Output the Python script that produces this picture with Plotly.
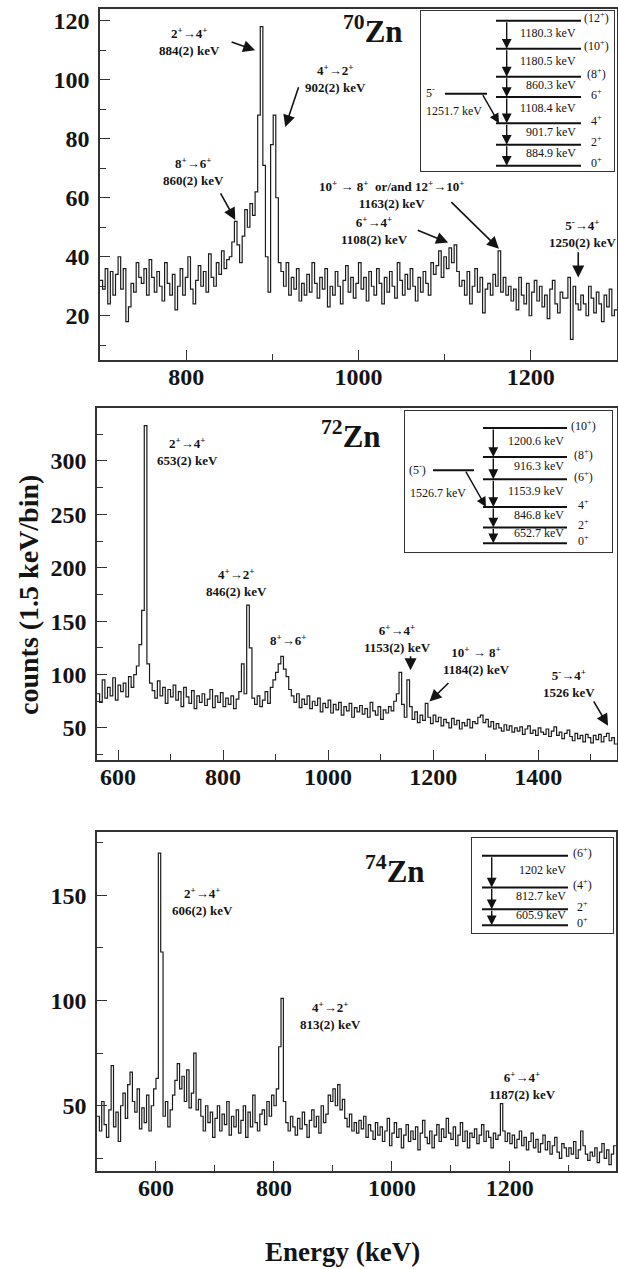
import plotly.graph_objects as go

W, H = 618, 1269
FONT = "Liberation Serif"
INK = "#141414"

# ------------------------------------------------------------------ data
# 70Zn gated spectrum, 3 keV bins from 700 keV
ZN70_E0, ZN70_BIN = 700, 3
ZN70_COUNTS = [
    32, 29, 36, 24, 35, 27, 34, 40, 29, 36,
    18, 23, 31, 28, 38, 33, 31, 36, 27, 39,
    33, 28, 35, 30, 25, 38, 31, 27, 34, 22,
    30, 36, 27, 33, 40, 29, 24, 32, 37, 30,
    35, 28, 41, 33, 30, 38, 34, 42, 36, 39,
    40, 45, 52, 44, 38, 47, 56, 50, 58, 54,
    62, 88, 118, 71, 40, 28, 78, 88, 60, 38,
    35, 30, 38, 27, 33, 29, 36, 25, 31, 27,
    34, 28, 38, 31, 26, 33, 29, 36, 23, 30,
    27, 35, 30, 24, 32, 37, 28, 33, 26, 31,
    38, 29, 33, 25, 35, 30, 27, 36, 31, 24,
    33, 28, 35, 30, 26, 38, 32, 27, 34, 29,
    36, 30, 25, 33, 28, 35, 31, 27, 38, 34,
    37, 42, 33, 40, 36, 43, 38, 44, 35, 30,
    32, 27, 35, 24, 30, 36, 28, 33, 21, 29,
    31, 27, 34, 30, 42, 28, 33, 27, 30, 25,
    29, 22, 33, 27, 24, 31, 20, 28, 32, 25,
    30, 23, 27, 19, 29, 32, 24, 21, 28, 26,
    26, 33, 12, 30, 24, 22, 27, 24, 20, 30,
    26, 21, 28, 24, 18, 27, 23, 29, 20, 22,
]

# 72Zn gated spectrum, 5 keV bins from 560 keV
ZN72_E0, ZN72_BIN = 560, 5
ZN72_COUNTS = [
    82, 74, 95, 78, 88, 80, 97, 76, 90, 84,
    92, 79, 98, 88, 100, 108, 128, 160, 333, 110,
    92, 85, 78, 94, 80, 88, 73, 86, 79, 90,
    76, 84, 70, 88, 79, 73, 85, 68, 80, 74,
    82, 71, 77, 86, 69, 80, 74, 83, 70, 78,
    72, 80, 68, 77, 84, 110, 82, 165, 125, 78,
    72, 80, 70, 76, 84, 73, 88, 95, 102, 110,
    117, 105, 98, 86, 80, 74, 82, 69, 77, 72,
    80, 68, 75, 71, 78, 65, 73, 69, 76, 64,
    72, 67, 74, 62, 70, 66, 73, 60, 69, 65,
    71, 63, 68, 60, 74, 66, 62, 70, 58, 67,
    64, 70, 66, 75, 82, 102, 72, 60, 95, 70,
    58, 65, 55, 62, 57, 73, 60, 54, 62, 56,
    60, 52, 58, 55, 50, 59, 53, 57, 49, 55,
    52, 58, 50, 56, 54, 60, 62, 55, 58, 51,
    56, 49, 54, 50, 47, 53, 48, 52, 46, 50,
    47, 51, 44, 49, 52, 45, 48, 43, 50, 46,
    44, 49, 42, 47, 51, 43, 46, 40, 45, 48,
    42, 38, 45, 40, 43, 37, 44, 41, 36, 43,
    39, 44, 37, 42, 45, 38, 41, 35,
]

# 74Zn gated spectrum, 4 keV bins from 500 keV
ZN74_E0, ZN74_BIN = 500, 4
ZN74_COUNTS = [
    45, 38, 52, 41, 35, 48, 69, 40, 47, 33,
    50, 56, 44, 60, 66, 52, 47, 58, 39, 49,
    42, 55, 38, 50, 58, 63, 170, 123, 45, 52,
    40, 48, 55, 62, 70, 58, 64, 52, 67, 49,
    56, 75, 48, 53, 45, 38, 50, 42, 47, 35,
    44, 50, 38, 46, 41, 52, 36, 45, 40, 48,
    37, 43, 50, 35, 47, 40, 55, 42, 38, 46,
    48, 41, 52, 45, 55, 50, 58, 78, 101, 52,
    42, 38, 45, 40, 36, 44, 39, 47, 41, 35,
    43, 48, 40, 45, 37, 50, 42, 46, 55, 52,
    58, 50, 60, 48, 53, 44, 40, 46, 38, 42,
    37, 43, 39, 45, 35, 41, 38, 34, 42, 36,
    40, 33, 38, 44, 31, 37, 42, 35, 39, 30,
    36, 41, 33, 38, 34, 40, 29, 37, 43, 35,
    32, 38, 30, 36, 41, 33, 39, 35, 44, 37,
    34, 40, 31, 36, 42, 33, 38, 30, 37, 35,
    39, 32, 36, 41, 33, 38, 35, 30, 37, 34,
    36, 51, 38, 33, 37, 32, 36, 30, 34, 38,
    31, 35, 29, 33, 37, 30, 34, 28, 32, 36,
    29, 33, 27, 31, 35, 28, 25, 32, 30, 26,
    30, 27, 33, 25, 29, 38, 31, 27, 24, 28,
    26, 30, 23, 28, 32, 25, 29, 22, 27, 31,
]

# level schemes (gamma energies in keV from the ground state up)
ZN70_GAMMAS = [884.9, 901.7, 1108.4, 860.3, 1180.5, 1180.3]
ZN70_SPINS = ["0<sup>+</sup>", "2<sup>+</sup>", "4<sup>+</sup>", "6<sup>+</sup>",
              "(8<sup>+</sup>)", "(10<sup>+</sup>)", "(12<sup>+</sup>)"]
ZN70_SIDE_SPIN, ZN70_SIDE_GAMMA, ZN70_SIDE_TO = "5<sup>-</sup>", 1251.7, 2

ZN72_GAMMAS = [652.7, 846.8, 1153.9, 916.3, 1200.6]
ZN72_SPINS = ["0<sup>+</sup>", "2<sup>+</sup>", "4<sup>+</sup>", "(6<sup>+</sup>)",
              "(8<sup>+</sup>)", "(10<sup>+</sup>)"]
ZN72_SIDE_SPIN, ZN72_SIDE_GAMMA, ZN72_SIDE_TO = "(5<sup>-</sup>)", 1526.7, 2

ZN74_GAMMAS = [605.9, 812.7, 1202]
ZN74_SPINS = ["0<sup>+</sup>", "2<sup>+</sup>", "(4<sup>+</sup>)", "(6<sup>+</sup>)"]
ZN74_GAMMA_TEXT = ["605.9 keV", "812.7 keV", "1202 keV"]

# peak labels
P = "<sup>+</sup>"
M = "<sup>-</sup>"
ZN70_PEAK_TEXT = [f"2{P}→4{P}<br>884(2) keV", f"4{P}→2{P}<br>902(2) keV",
                  f"8{P}→6{P}<br>860(2) keV",
                  f"10{P} → 8{P}  or/and 12{P}→10{P}<br>1163(2) keV",
                  f"6{P}→4{P}<br>1108(2) keV", f"5{M}→4{P}<br>1250(2) keV"]
ZN72_PEAK_TEXT = [f"2{P}→4{P}<br>653(2) keV", f"4{P}→2{P}<br>846(2) keV",
                  f"8{P}→6{P}", f"6{P}→4{P}<br>1153(2) keV",
                  f"10{P} → 8{P}<br>1184(2) keV", f"5{M}→4{P}<br>1526 keV"]
ZN74_PEAK_TEXT = [f"2{P}→4{P}<br>606(2) keV", f"4{P}→2{P}<br>813(2) keV",
                  f"6{P}→4{P}<br>1187(2) keV"]

# ------------------------------------------------------------------ layout
# label anchors (data coords) and arrows ((tail x, tail y), (head x, head y))
ZN70_LABEL_POS = [(804, 113), (973, 100.5), (809, 69), (1038, 61), (1019, 49), (1260, 48)]
ZN70_ARROWS = [((851, 113), (880, 110)), ((931, 98), (915, 84)), ((839, 62), (857, 52.5)),
               ((1106, 59), (1163, 42.7)), ((1067, 49.2), (1104, 44.8)),
               ((1255, 42), (1255, 33))]
ZN72_LABEL_POS = [(733, 309), (826, 186), (924, 132.6), (1133, 133.5), (1283, 113), (1458, 92)]
ZN72_ARROWS = [((1157, 118.5), (1157, 104)), ((1232, 93.4), (1193, 74.7)),
               ((1504, 76.3), (1533, 52))]
ZN74_LABEL_POS = [(679, 147), (896, 92.8), (1221, 59.7)]

PANELS = [
    dict(x=(100, 617), y=(9, 360), xr=(700, 1300), yr=(5, 124), ydt=20, ymin=10,
         e0=ZN70_E0, w=ZN70_BIN, c=ZN70_COUNTS, iso="70", iso_pos=(1017, 117)),
    dict(x=(97, 617), y=(408, 760), xr=(560, 1550), yr=(20, 349.5), ydt=50, ymin=25,
         e0=ZN72_E0, w=ZN72_BIN, c=ZN72_COUNTS, iso="72", iso_pos=(1043, 325)),
    dict(x=(97, 616), y=(832, 1171), xr=(500, 1380), yr=(19, 180), ydt=50, ymin=25,
         e0=ZN74_E0, w=ZN74_BIN, c=ZN74_COUNTS, iso="74", iso_pos=(1005, 162)),
]


def dom_x(a, b):
    return [a / W, b / W]


def dom_y(top, bot):
    return [1 - bot / H, 1 - top / H]


fig = go.Figure()
layout = dict(width=W, height=H, margin=dict(l=0, r=0, t=0, b=0),
              paper_bgcolor="white", plot_bgcolor="white", showlegend=False)
annotations = []

for i, p in enumerate(PANELS, start=1):
    s = "" if i == 1 else str(i)
    xs = [p["e0"] + k * p["w"] for k in range(len(p["c"]) + 1)]
    ys = list(p["c"]) + [p["c"][-1]]
    fig.add_trace(go.Scatter(x=xs, y=ys, mode="lines", xaxis="x" + s, yaxis="y" + s,
                             line=dict(shape="hv", width=1.2, color="#1c1c1c"),
                             hoverinfo="skip"))
    common = dict(showline=True, mirror=True, linecolor="#333", linewidth=1.5,
                  ticks="inside", ticklen=10, tickwidth=1.2, tickcolor="#333",
                  showgrid=False, zeroline=False,
                  tickfont=dict(family=FONT, size=24, color=INK, weight="bold"))
    layout["xaxis" + s] = dict(domain=dom_x(*p["x"]), range=list(p["xr"]), anchor="y" + s,
                               dtick=200, tick0=0, ticklabelstandoff=-6,
                               minor=dict(ticks="inside", ticklen=6, dtick=100, tick0=0,
                                          tickcolor="#333"), **common)
    layout["yaxis" + s] = dict(domain=dom_y(*p["y"]), range=list(p["yr"]), anchor="x" + s,
                               dtick=p["ydt"], tick0=0, ticklabelstandoff=4,
                               minor=dict(ticks="inside", ticklen=6, dtick=p["ymin"], tick0=0,
                                          tickcolor="#333"), **common)
    annotations.append(dict(xref="x" + s, yref="y" + s, x=p["iso_pos"][0], y=p["iso_pos"][1],
                            text=f"<b><sup>{p['iso']}</sup>Zn</b>", showarrow=False,
                            font=dict(family=FONT, size=31, color=INK)))

# peak labels and arrows
for s, texts, pos, arrows in [("", ZN70_PEAK_TEXT, ZN70_LABEL_POS, ZN70_ARROWS),
                              ("2", ZN72_PEAK_TEXT, ZN72_LABEL_POS, ZN72_ARROWS),
                              ("3", ZN74_PEAK_TEXT, ZN74_LABEL_POS, [])]:
    for t, (x, y) in zip(texts, pos):
        annotations.append(dict(xref="x" + s, yref="y" + s, x=x, y=y, text=f"<b>{t}</b>",
                                showarrow=False,
                                font=dict(family=FONT, size=13, color=INK)))
    for (tx, ty), (hx, hy) in arrows:
        annotations.append(dict(xref="x" + s, yref="y" + s, axref="x" + s, ayref="y" + s,
                                x=hx, y=hy, ax=tx, ay=ty, text="", showarrow=True,
                                arrowhead=2, arrowsize=1.5, arrowwidth=1.6,
                                arrowcolor=INK, standoff=0, startstandoff=0))

# ------------------------------------------------------------------ level-scheme insets
INSETS = [
    dict(id=4, box=(421, 11, 614, 171), zero=165.7, top=20.7, lx=(496, 581), ax=506.7,
         lab_r=578, spin_x=596, gammas=ZN70_GAMMAS, spins=ZN70_SPINS,
         gtext=[f"{g} keV" for g in ZN70_GAMMAS],
         side=dict(spin=ZN70_SIDE_SPIN, g=ZN70_SIDE_GAMMA, to=ZN70_SIDE_TO, lx=(445, 487),
                   spin_x=430, glab_x=454, glab_dy=-17, tail_x=482, head_x=499)),
    dict(id=5, box=(405, 411, 612, 552), zero=543.3, top=428, lx=(483, 567), ax=493.3,
         lab_r=565.7, spin_x=583, gammas=ZN72_GAMMAS, spins=ZN72_SPINS,
         gtext=[f"{g} keV" for g in ZN72_GAMMAS],
         side=dict(spin=ZN72_SIDE_SPIN, g=ZN72_SIDE_GAMMA, to=ZN72_SIDE_TO, lx=(433, 474),
                   spin_x=417, glab_x=438, glab_dy=-23, tail_x=465, head_x=486)),
    dict(id=6, box=(472, 838, 613, 933), zero=925.3, top=855.7, lx=(482, 568), ax=491.7,
         lab_r=568, spin_x=582, gammas=ZN74_GAMMAS, spins=ZN74_SPINS,
         gtext=ZN74_GAMMA_TEXT, side=None),
]

for ins in INSETS:
    n = str(ins["id"])
    levels = [0.0]
    for g in ins["gammas"]:
        levels.append(levels[-1] + g)
    scale = (ins["zero"] - ins["top"]) / levels[-1]  # px per keV
    l, t, r, b = ins["box"]
    yr = [-(b - ins["zero"]) / scale, (ins["zero"] - t) / scale]
    box_axis = dict(showline=True, mirror=True, linecolor="#333", linewidth=1,
                    showticklabels=False, ticks="", showgrid=False, zeroline=False,
                    fixedrange=True)
    layout["xaxis" + n] = dict(domain=dom_x(l, r), range=[l, r], anchor="y" + n, **box_axis)
    layout["yaxis" + n] = dict(domain=dom_y(t, b), range=yr, anchor="x" + n, **box_axis)

    lx, ly = [], []
    for e in levels:
        lx += [ins["lx"][0], ins["lx"][1], None]
        ly += [e, e, None]
    side = ins["side"]
    if side:
        se = levels[side["to"]] + side["g"]
        lx += [side["lx"][0], side["lx"][1], None]
        ly += [se, se, None]
    fig.add_trace(go.Scatter(x=lx, y=ly, mode="lines", xaxis="x" + n, yaxis="y" + n,
                             line=dict(color="#111", width=2), hoverinfo="skip"))

    tf = dict(family=FONT, size=12, color=INK)
    for k, e in enumerate(levels):
        annotations.append(dict(xref="x" + n, yref="y" + n, x=ins["spin_x"], y=e,
                                yshift=3, text=ins["spins"][k], showarrow=False, font=tf))
    for k, g in enumerate(ins["gammas"]):
        lo, hi = levels[k], levels[k + 1]
        annotations.append(dict(xref="x" + n, yref="y" + n, x=ins["lab_r"], y=(lo + hi) / 2,
                                yshift=2, xanchor="right", text=ins["gtext"][k],
                                showarrow=False, font=tf))
        annotations.append(dict(xref="x" + n, yref="y" + n, axref="x" + n, ayref="y" + n,
                                x=ins["ax"], y=lo, ax=ins["ax"], ay=hi, text="",
                                showarrow=True, arrowhead=2, arrowsize=1.4, arrowwidth=1.4,
                                arrowcolor="#111", standoff=0, startstandoff=0))
    if side:
        annotations.append(dict(xref="x" + n, yref="y" + n, x=side["spin_x"], y=se, yshift=1,
                                text=side["spin"], showarrow=False, font=tf))
        annotations.append(dict(xref="x" + n, yref="y" + n, x=side["glab_x"], y=se,
                                yshift=side["glab_dy"], text=f"{side['g']} keV",
                                showarrow=False, font=tf))
        annotations.append(dict(xref="x" + n, yref="y" + n, axref="x" + n, ayref="y" + n,
                                x=side["head_x"], y=levels[side["to"]], ax=side["tail_x"],
                                ay=se, text="", showarrow=True, arrowhead=2, arrowsize=1.4,
                                arrowwidth=1.4, arrowcolor="#111", standoff=0,
                                startstandoff=0))

# axis titles
annotations.append(dict(xref="paper", yref="paper", x=28 / W, y=1 - 595 / H,
                        xanchor="center", yanchor="middle",
                        text="<b>counts (1.5 keV/bin)</b>", textangle=-90, showarrow=False,
                        font=dict(family=FONT, size=28, color=INK)))
annotations.append(dict(xref="paper", yref="paper", x=342 / W, y=1 - 1252 / H,
                        xanchor="center", yanchor="middle",
                        text="<b>Energy (keV)</b>", showarrow=False,
                        font=dict(family=FONT, size=27, color=INK)))

layout["annotations"] = annotations
fig.update_layout(**layout)
fig.write_html("out.html")
